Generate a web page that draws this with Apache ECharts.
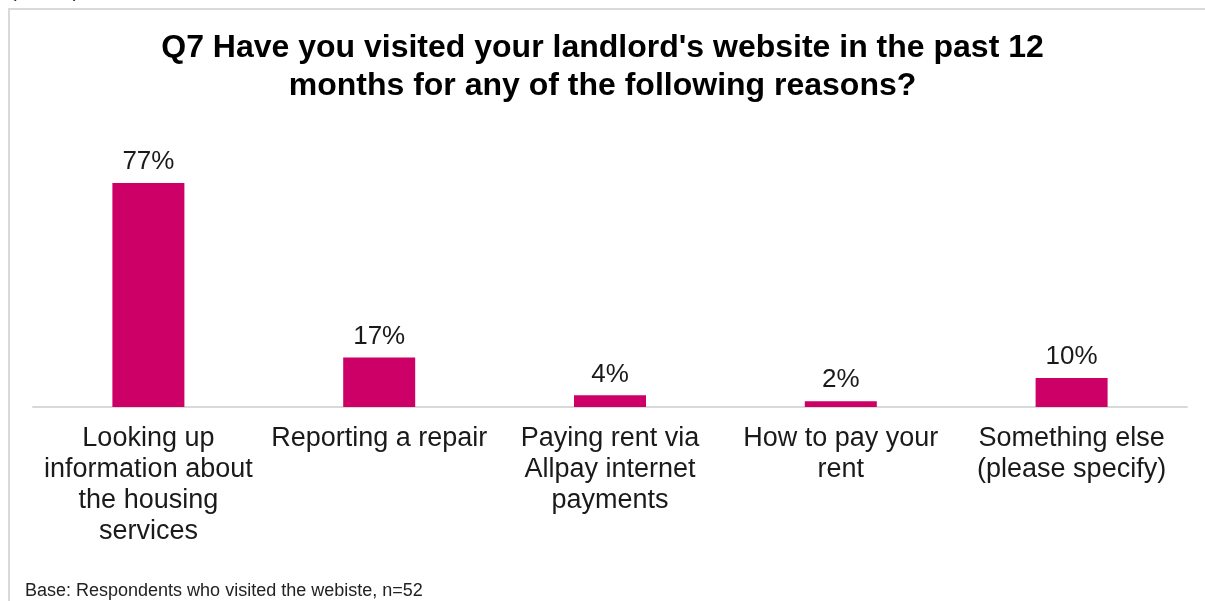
<!DOCTYPE html>
<html>
<head>
<meta charset="utf-8">
<script src="https://cdn.jsdelivr.net/npm/echarts@6/dist/echarts.min.js"></script>
<style>html,body{margin:0;padding:0;background:#fff}#c{width:1205px;height:601px}</style>
</head>
<body>
<div id="c"></div>
<script>
var titleText = "Q7 Have you visited your landlord's website in the past 12\nmonths for any of the following reasons?";
var categories = [
  "Looking up\ninformation about\nthe housing\nservices",
  "Reporting a repair",
  "Paying rent via\nAllpay internet\npayments",
  "How to pay your\nrent",
  "Something else\n(please specify)"
];
var values = [77, 17, 4, 2, 10];
var footnote = "Base: Respondents who visited the webiste, n=52";

var chart = echarts.init(document.getElementById('c'), null, {renderer: 'canvas'});
chart.setOption({
  animation: false,
  backgroundColor: '#ffffff',
  textStyle: {fontFamily: 'Liberation Sans, Arial, sans-serif'},
  graphic: [
    {type: 'rect', shape: {x: 9, y: 9, width: 1300, height: 700}, style: {fill: 'none', stroke: '#d9d9d9', lineWidth: 2}, z: -1},
    {type: 'text', left: 25, top: 582, style: {text: footnote, font: '18px "Liberation Sans", Arial, sans-serif', fill: '#222222'}},
    {type: 'text', left: 10, top: -19, style: {text: '(n=100)', font: '20px "Liberation Sans", Arial, sans-serif', fill: '#222222'}}
  ],
  title: {
    text: titleText,
    left: 'center',
    top: 24,
    textStyle: {fontSize: 32, fontWeight: 'bold', color: '#000000', lineHeight: 38, fontFamily: 'Liberation Sans, Arial, sans-serif'}
  },
  grid: {left: 33, right: 18, top: 116, bottom: 194, containLabel: false},
  xAxis: {
    type: 'category',
    data: categories,
    axisLine: {lineStyle: {color: '#d9d9d9', width: 2}},
    axisTick: {show: false},
    axisLabel: {interval: 0, fontSize: 27, lineHeight: 31, color: '#1a1a1a', margin: 16, verticalAlign: 'top'}
  },
  yAxis: {type: 'value', min: 0, max: 100, show: false, splitLine: {show: false}},
  series: [{
    type: 'bar',
    data: values,
    barWidth: 72,
    itemStyle: {color: '#CC0066'},
    label: {show: true, position: 'top', formatter: '{c}%', fontSize: 26, color: '#1a1a1a', distance: 8}
  }]
});
</script>
</body>
</html>
